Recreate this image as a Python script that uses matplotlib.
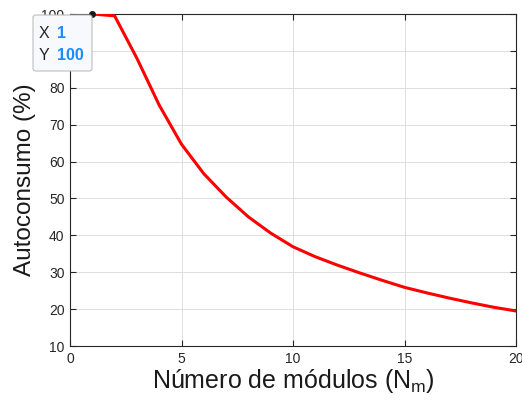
import matplotlib
matplotlib.use("Agg")
import matplotlib.pyplot as plt
from matplotlib.patches import FancyBboxPatch

plt.rcParams['font.family'] = ['Liberation Sans', 'DejaVu Sans']

modules = list(range(1, 21))
autoconsumo = [100, 99.5, 88, 75.3, 64.7, 56.7, 50.4, 45.0, 40.6, 36.9,
               34.2, 31.9, 29.8, 27.8, 25.9, 24.4, 23.0, 21.7, 20.5, 19.5]
xticks = [0, 5, 10, 15, 20]
yticks = [10, 20, 30, 40, 50, 60, 70, 80, 90, 100]

fig = plt.figure(figsize=(5.22, 4.09), dpi=100)
ax = fig.add_axes([70/522, 1-346/409, (516-70)/522, (346-14)/409])

ax.plot(modules, autoconsumo, color='#ff0000', lw=2.2, zorder=3)
ax.set_xlim(0, 20)
ax.set_ylim(10, 100)
ax.set_xticks(xticks)
ax.set_yticks(yticks)
ax.grid(True, color='#dfdfdf', lw=0.7)
ax.set_axisbelow(True)
ax.tick_params(direction='in', top=True, right=True, labelsize=10,
               colors='#262626', length=4, width=0.8, pad=4)
for s in ax.spines.values():
    s.set_color('#262626')
    s.set_linewidth(0.8)

ax.set_xlabel(r'Número de módulos (N$_\mathregular{m}$)', fontsize=18,
              color='#1a1a1a', labelpad=1)
ax.set_ylabel('Autoconsumo (%)', fontsize=17.5, color='#1a1a1a', labelpad=4)

# data tip
ax.plot([modules[0]], [autoconsumo[0]], 'o', color='#1a1a1a', ms=4, zorder=5,
        clip_on=False)
box = FancyBboxPatch((33/522, 1-71/409), (92-33)/522, (71-15)/409,
                     boxstyle='round,pad=0,rounding_size=0.006',
                     transform=fig.transFigure, facecolor='#f8f9fc',
                     edgecolor='#bdbdbd', lw=0.8, zorder=10)
fig.patches.append(box)
fig.text(39/522, 1-34/409, 'X', fontsize=11.5, color='#262626', va='center', zorder=11)
fig.text(57/522, 1-34/409, '1', fontsize=11.5, color='#1a8cff', va='center',
         fontweight='bold', zorder=11)
fig.text(39/522, 1-55/409, 'Y', fontsize=11.5, color='#262626', va='center', zorder=11)
fig.text(57/522, 1-55/409, '100', fontsize=11.5, color='#1a8cff', va='center',
         fontweight='bold', zorder=11)

fig.savefig('out.png', dpi=100, facecolor='white')
